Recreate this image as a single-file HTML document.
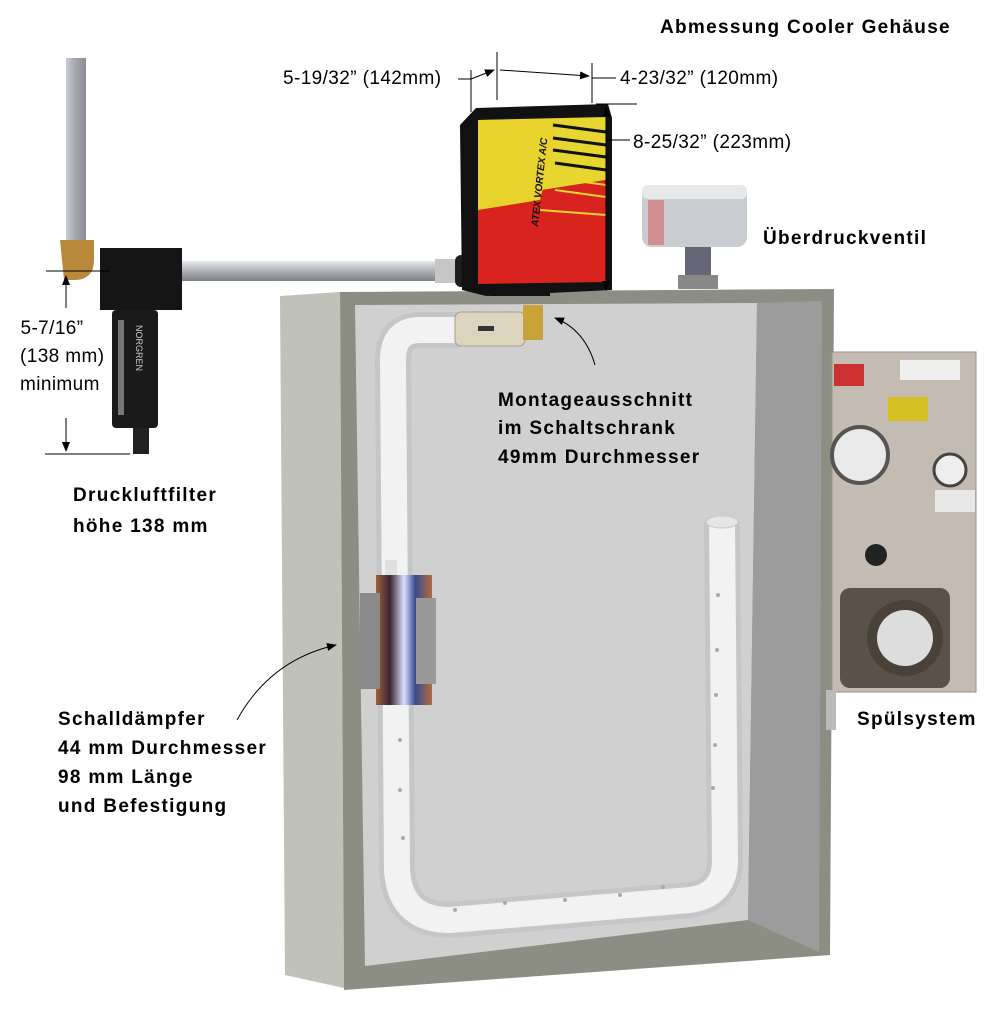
<!DOCTYPE html>
<html><head><meta charset="utf-8"><style>
html,body{margin:0;padding:0;background:#fff;width:1003px;height:1024px;overflow:hidden}
svg{display:block}
.b{font-family:"Liberation Sans",sans-serif;font-weight:bold;font-size:19px;letter-spacing:1.3px;fill:#000}
.n{font-family:"Liberation Sans",sans-serif;font-size:19px;letter-spacing:0.4px;fill:#000}
</style></head><body>
<svg width="1003" height="1024" viewBox="0 0 1003 1024" xmlns="http://www.w3.org/2000/svg">
<defs>
<marker id="ar" markerWidth="10" markerHeight="10" refX="9" refY="5" orient="auto" markerUnits="userSpaceOnUse"><path d="M0,1 L10,5 L0,9z" fill="#000"/></marker>
<linearGradient id="pipe" x1="0" y1="0" x2="0" y2="1"><stop offset="0" stop-color="#e8eaec"/><stop offset=".5" stop-color="#aeb2b6"/><stop offset="1" stop-color="#7d8186"/></linearGradient>
<linearGradient id="vpipe" x1="0" y1="0" x2="1" y2="0"><stop offset="0" stop-color="#c8ccd0"/><stop offset=".4" stop-color="#a9adb2"/><stop offset="1" stop-color="#8a8e92"/></linearGradient>
<linearGradient id="muf" x1="0" y1="0" x2="1" y2="0"><stop offset="0" stop-color="#a0603a"/><stop offset=".25" stop-color="#3a2530"/><stop offset=".5" stop-color="#d8e0ff"/><stop offset=".7" stop-color="#3a4a90"/><stop offset="1" stop-color="#b06a40"/></linearGradient>
</defs>

<polygon points="280,296 340,292 344,988 285,975" fill="#c0c1b9"/>
<polygon points="340,292 834,289 830,955 344,990" fill="#8c8e84"/>
<polygon points="355,305 757,303 748,920 365,966" fill="#d0d0d0"/>
<polygon points="757,303 822,301 819,952 748,920" fill="#9c9c9c"/>

<path d="M460,330 L420,330 Q393,330 393,360 L397,870 Q400,920 450,920 L690,900 Q725,895 725,860 L722,522" fill="none" stroke="#c4c6c8" stroke-width="36" stroke-linejoin="round"/>
<path d="M460,330 L420,330 Q393,330 393,360 L397,870 Q400,920 450,920 L690,900 Q725,895 725,860 L722,522" fill="none" stroke="#f2f2f2" stroke-width="26" stroke-linejoin="round"/>
<ellipse cx="722" cy="522" rx="16" ry="6" fill="#e6e6e6" stroke="#c8c8c8"/>
<g fill="#aaa"><circle cx="400" cy="740" r="2"/><circle cx="400" cy="790" r="2"/><circle cx="403" cy="838" r="2"/><circle cx="455" cy="910" r="2"/><circle cx="505" cy="903" r="2"/><circle cx="565" cy="900" r="2"/><circle cx="620" cy="895" r="2"/><circle cx="663" cy="887" r="2"/><circle cx="718" cy="595" r="2"/><circle cx="717" cy="650" r="2"/><circle cx="716" cy="695" r="2"/><circle cx="715" cy="745" r="2"/><circle cx="713" cy="788" r="2"/></g>
<rect x="455" y="312" width="70" height="34" rx="6" fill="#ddd4c0" stroke="#a89e88"/>
<rect x="478" y="326" width="16" height="5" fill="#333"/>
<rect x="523" y="305" width="20" height="35" fill="#c9a23a"/>
<rect x="376" y="575" width="56" height="130" fill="url(#muf)"/>
<rect x="360" y="593" width="20" height="96" fill="#8a8a8a"/>
<rect x="416" y="598" width="20" height="86" fill="#999"/>
<rect x="385" y="560" width="12" height="15" fill="#e0e0e0"/>

<rect x="66" y="58" width="20" height="190" fill="url(#vpipe)"/>
<path d="M60,240 h34 v20 q0,20 -20,20 h-10 z" fill="#b8893a"/>
<rect x="175" y="261" width="290" height="20" fill="url(#pipe)"/>
<rect x="435" y="259" width="20" height="24" fill="#c6c6c6"/>
<rect x="455" y="255" width="22" height="32" rx="6" fill="#1e1e1e"/>
<rect x="100" y="248" width="82" height="62" fill="#151515"/>
<rect x="112" y="310" width="46" height="118" rx="4" fill="#1a1a1a"/>
<rect x="118" y="320" width="6" height="95" fill="#777"/>
<text transform="translate(136,325) rotate(90)" font-family="Liberation Sans,sans-serif" font-size="9" fill="#ccc">NORGREN</text>
<rect x="133" y="428" width="16" height="26" fill="#222"/>

<polygon points="460,125 476,108 608,104 612,118 612,290 486,296 462,290" fill="#111"/>
<polygon points="478,120 606,117 606,180 478,200" fill="#e7d62f"/>
<polygon points="478,200 606,180 606,282 478,284" fill="#d9231f"/>
<polygon points="478,120 560,119 540,200 478,210" fill="#e8d22c"/>
<g stroke="#111" stroke-width="3"><line x1="553" y1="125" x2="606" y2="132"/><line x1="553" y1="138" x2="606" y2="145"/><line x1="553" y1="150" x2="606" y2="157"/><line x1="555" y1="163" x2="606" y2="170"/></g>
<g stroke="#e7d62f" stroke-width="2"><line x1="555" y1="178" x2="606" y2="185"/><line x1="555" y1="190" x2="606" y2="197"/><line x1="540" y1="210" x2="606" y2="215"/></g>
<text transform="translate(538,227) rotate(-84)" font-family="Liberation Sans,sans-serif" font-weight="bold" font-style="italic" font-size="10" fill="#111">ATEX VORTEX A/C</text>
<rect x="490" y="284" width="60" height="12" fill="#111"/>

<rect x="642" y="185" width="105" height="62" rx="10" fill="#c9ccd0"/>
<rect x="642" y="185" width="105" height="14" rx="6" fill="#e6e8ea"/>
<rect x="648" y="200" width="16" height="45" fill="#d85050" opacity=".5"/>
<rect x="685" y="247" width="26" height="30" fill="#667"/>
<rect x="678" y="275" width="40" height="14" fill="#888"/>

<rect x="832" y="352" width="144" height="340" fill="#c4bcb2"/>
<rect x="832" y="352" width="144" height="340" fill="none" stroke="#9a928a"/>
<rect x="834" y="364" width="30" height="22" fill="#cc3030"/>
<rect x="900" y="360" width="60" height="20" fill="#eee"/>
<circle cx="860" cy="455" r="28" fill="#e9e9e9" stroke="#555" stroke-width="4"/>
<rect x="888" y="397" width="40" height="24" fill="#d4c020"/>
<circle cx="950" cy="470" r="16" fill="#eee" stroke="#444" stroke-width="3"/>
<rect x="935" y="490" width="40" height="22" fill="#e8e8e8"/>
<circle cx="876" cy="555" r="11" fill="#222"/>
<rect x="840" y="588" width="110" height="100" rx="10" fill="#5a5248"/>
<circle cx="905" cy="638" r="38" fill="#4a4239"/>
<circle cx="905" cy="638" r="28" fill="#ddd"/>
<rect x="826" y="690" width="10" height="40" fill="#bbb"/>

<g stroke="#000" stroke-width="1" fill="none">
<line x1="471" y1="70" x2="471" y2="112"/>
<line x1="497" y1="52" x2="497" y2="100"/>
<line x1="592" y1="63" x2="592" y2="103"/>
<line x1="458" y1="79" x2="471" y2="79"/>
<line x1="471" y1="79" x2="494" y2="70" marker-end="url(#ar)"/>
<line x1="500" y1="70" x2="589" y2="76" marker-end="url(#ar)"/>
<line x1="592" y1="78" x2="616" y2="78"/>
<line x1="596" y1="104" x2="637" y2="104"/>
<line x1="606" y1="110" x2="606" y2="290" marker-end="url(#ar)"/>
<line x1="606" y1="110" x2="606" y2="108" marker-end="url(#ar)"/>
<line x1="606" y1="140" x2="630" y2="140"/>
<line x1="46" y1="271" x2="110" y2="271"/>
<line x1="66" y1="308" x2="66" y2="276" marker-end="url(#ar)"/>
<line x1="66" y1="418" x2="66" y2="451" marker-end="url(#ar)"/>
<line x1="45" y1="454" x2="130" y2="454"/>
<path d="M595,365 Q585,330 555,318" marker-end="url(#ar)"/>
<path d="M237,720 Q270,660 336,645" marker-end="url(#ar)"/>
</g>

<text class="b" x="660" y="33">Abmessung Cooler Gehäuse</text>
<text class="n" x="283" y="84">5-19/32” (142mm)</text>
<text class="n" x="620" y="84">4-23/32” (120mm)</text>
<text class="n" x="633" y="148">8-25/32” (223mm)</text>
<text class="b" x="763" y="244">Überdruckventil</text>
<text class="n" x="52" y="334" text-anchor="middle" x-offset="0">5-7/16”</text>
<text class="n" x="20" y="362">(138 mm)</text>
<text class="n" x="20" y="390">minimum</text>
<text class="b" x="73" y="501">Druckluftfilter</text>
<text class="b" x="73" y="532">höhe 138 mm</text>
<text class="b" x="498" y="406">Montageausschnitt</text>
<text class="b" x="498" y="434">im Schaltschrank</text>
<text class="b" x="498" y="463">49mm Durchmesser</text>
<text class="b" x="857" y="725">Spülsystem</text>
<text class="b" x="58" y="725">Schalldämpfer</text>
<text class="b" x="58" y="754">44 mm Durchmesser</text>
<text class="b" x="58" y="783">98 mm Länge</text>
<text class="b" x="58" y="812">und Befestigung</text>
</svg>
</body></html>
